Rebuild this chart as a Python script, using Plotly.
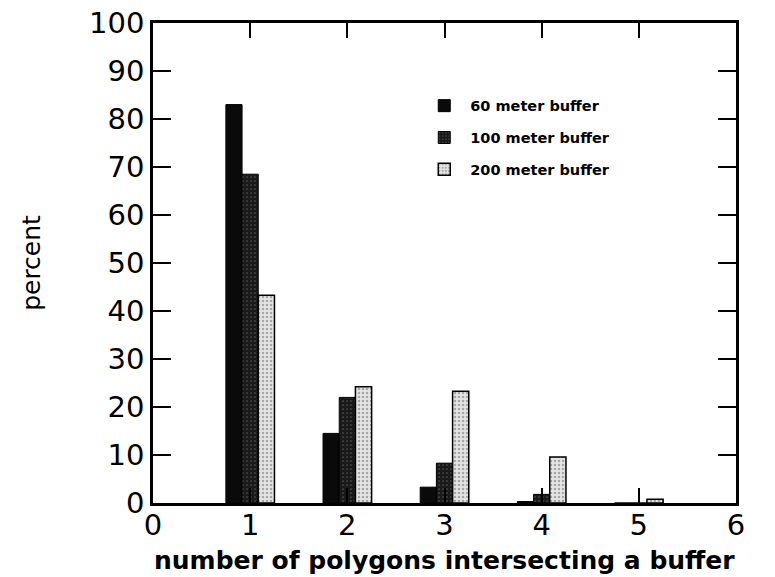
import plotly.graph_objects as go

categories = [1, 2, 3, 4, 5]
series_names = ["60 meter buffer", "100 meter buffer", "200 meter buffer"]
buf60 = [83.0, 14.5, 3.3, 0.3, 0.0]
buf100 = [68.5, 22.0, 8.3, 1.8, 0.0]
buf200 = [43.3, 24.2, 23.3, 9.6, 0.8]
x_title = "number of polygons intersecting a buffer"
y_title = "percent"

FONT = "DejaVu Sans, Liberation Sans, Arial, sans-serif"

fig = go.Figure()
fig.add_trace(go.Bar(x=categories, y=buf60, name=series_names[0], legendgroup="a",
                     marker=dict(color="#0a0a0a", line=dict(color="black", width=1))))
fig.add_trace(go.Bar(x=categories, y=buf100, name=series_names[1], legendgroup="b",
                     marker=dict(color="#1e1e1e", line=dict(color="black", width=1),
                                 pattern=dict(shape=".", fgcolor="#8a8a8a", bgcolor="#1a1a1a", size=4, solidity=0.15))))
fig.add_trace(go.Bar(x=categories, y=buf200, name=series_names[2], legendgroup="c",
                     marker=dict(color="#d8d8d8", line=dict(color="black", width=1.5),
                                 pattern=dict(shape=".", fgcolor="#6a6a6a", bgcolor="#e4e4e4", size=4, solidity=0.3))))

axis_font = dict(family=FONT, size=29, color="black")
fig.update_layout(
    width=775, height=577,
    margin=dict(l=153, r=39, t=23, b=74),
    paper_bgcolor="white", plot_bgcolor="white",
    barmode="group", bargap=0.5, bargroupgap=0,
    font=dict(family=FONT, color="black"),
    showlegend=True,
    legend=dict(x=0.455, y=0.861, xanchor="left", yanchor="top",
                font=dict(size=14.5, family=FONT, weight="bold"),
                itemwidth=42,
                traceorder="grouped", tracegroupgap=10, bgcolor="rgba(0,0,0,0)"),
    annotations=[dict(text=x_title, xref="paper", yref="paper", x=0.5, y=-0.12,
                      xanchor="center", yanchor="middle", showarrow=False,
                      font=dict(size=25, family=FONT, weight="bold", color="black"))],
)
fig.update_xaxes(range=[0, 6], dtick=1, tick0=0, ticks="inside", ticklen=15, tickwidth=2,
                 tickcolor="black", showline=True, linecolor="black", linewidth=2.5, mirror="ticks",
                 showgrid=False, zeroline=False, tickfont=axis_font, ticklabelstandoff=-6,
                 automargin=False)
fig.update_yaxes(range=[0, 100], dtick=10, tick0=0, ticks="inside", ticklen=18, tickwidth=2,
                 tickcolor="black", showline=True, linecolor="black", linewidth=2.5, mirror="ticks",
                 showgrid=False, zeroline=False, tickfont=axis_font, ticklabelstandoff=0,
                 automargin=False,
                 title=dict(text=y_title, font=dict(size=25, family=FONT),
                            standoff=42))
fig.write_html("out.html")
